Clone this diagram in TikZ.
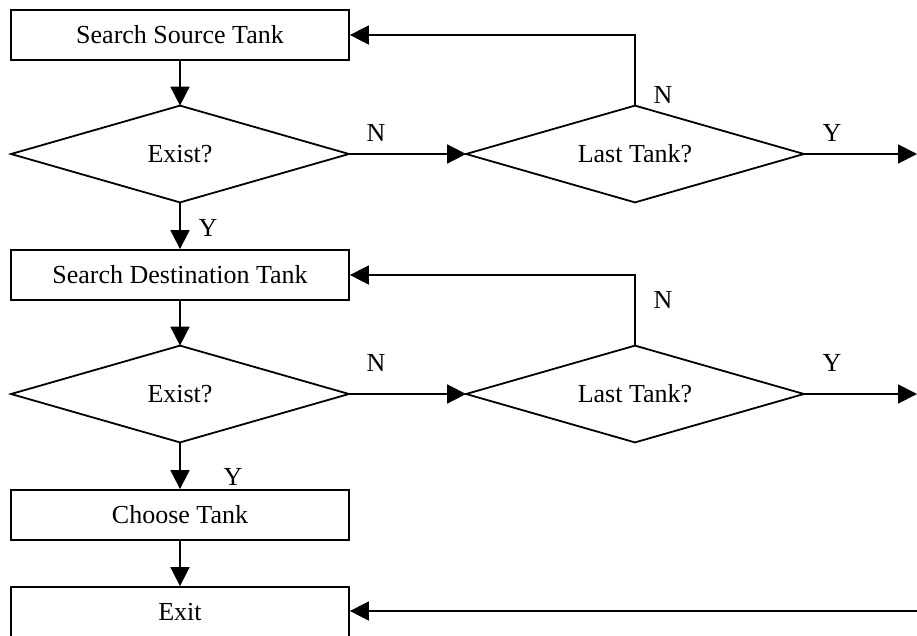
\documentclass[tikz,border=0pt]{standalone}
\usepackage{fontspec}
\setmainfont{Liberation Serif}
\usetikzlibrary{arrows.meta}

\tikzset{
  every picture/.style={x=1pt,y=1pt},
  base/.style={line width=1.8pt,inner sep=0pt,
    font=\fontsize{26}{30}\selectfont},
  process/.style={base,draw=black,rectangle,minimum width=338pt,minimum height=50pt},
  % decision nodes hold the text; their rhombus outline is drawn through the anchors
  decision/.style={base,rectangle,minimum width=336pt,minimum height=95pt},
  rhombus/.style={line width=1.8pt,line join=miter},
  flow/.style={line width=1.8pt,-{Triangle[length=19pt,width=19pt]}},
  tag/.style={font=\fontsize{26}{30}\selectfont,inner sep=0pt}
}

\begin{document}
\begin{tikzpicture}
  \useasboundingbox (0,0) rectangle (917,-635);
  \clip (0,0) rectangle (917,-635);

  % first search loop
  \node[process]  (src)   at (180,-35)  {Search Source Tank};
  \node[decision] (ex1)   at (180,-154) {Exist?};
  \node[decision] (last1) at (635,-154) {Last Tank?};

  % second search loop
  \node[process]  (dst)   at (180,-275) {Search Destination Tank};
  \node[decision] (ex2)   at (180,-394) {Exist?};
  \node[decision] (last2) at (635,-394) {Last Tank?};

  % final steps
  \node[process]  (pick)  at (180,-515) {Choose Tank};
  \node[process]  (exit)  at (180,-612) {Exit};

  % rhombus outlines of the decisions
  \foreach \d in {ex1,last1,ex2,last2}
    \draw[rhombus] (\d.north) -- (\d.east) -- (\d.south) -- (\d.west) -- cycle;

  % free ends at the right edge
  \coordinate (out1) at (917,-154);
  \coordinate (out2) at (917,-394);
  \coordinate (back) at (917,-611);

  % main downward flow
  \draw[flow] (src) -- (ex1.north);
  \draw[flow] (ex1.south) -- (dst);
  \draw[flow] (dst) -- (ex2.north);
  \draw[flow] (ex2.south) -- (pick);
  \draw[flow] (pick) -- (exit);

  % "no" branches and loops back
  \draw[flow] (ex1.east) -- (last1.west);
  \draw[flow] (last1.north) |- (src.east);
  \draw[flow] (last1.east) -- (out1);
  \draw[flow] (ex2.east) -- (last2.west);
  \draw[flow] (last2.north) |- (dst.east);
  \draw[flow] (last2.east) -- (out2);
  \draw[flow] (back) -- (back -| exit.east);

  % branch labels
  \node[tag] (n1) at (376,-133) {N};
  \node[tag] (n2) at (663,-95)  {N};
  \node[tag] (y1) at (832,-133) {Y};
  \node[tag] (y2) at (208,-228) {Y};
  \node[tag] (n3) at (376,-363) {N};
  \node[tag] (n4) at (663,-300) {N};
  \node[tag] (y3) at (832,-363) {Y};
  \node[tag] (y4) at (233,-477) {Y};
\end{tikzpicture}
\end{document}
